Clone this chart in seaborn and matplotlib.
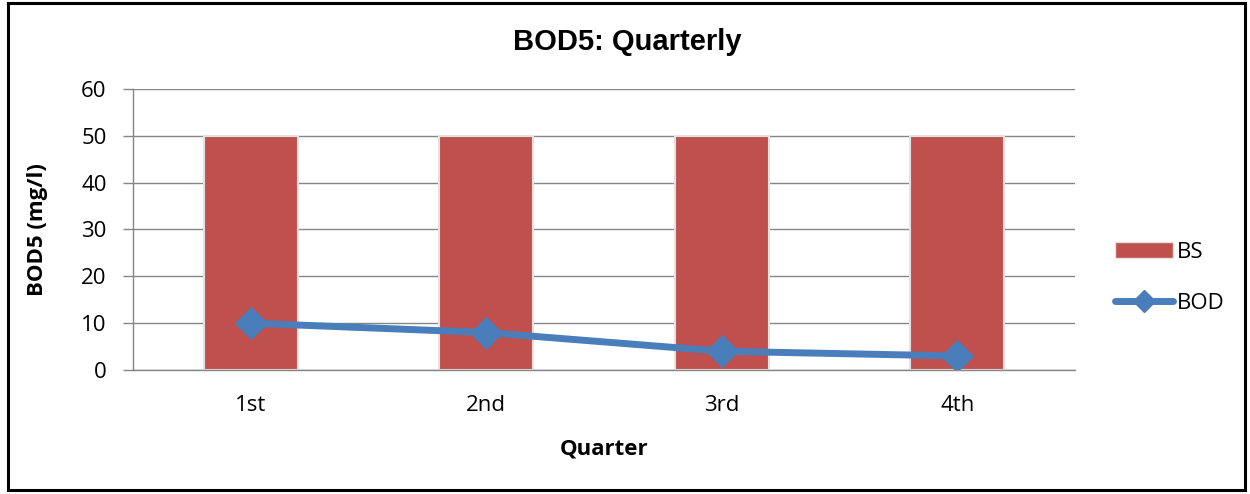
import matplotlib
matplotlib.use("Agg")
import matplotlib.pyplot as plt
import seaborn as sns
from matplotlib.patches import Patch, Rectangle
from matplotlib.lines import Line2D

# data
quarters = ["1st", "2nd", "3rd", "4th"]
bs_values = [50, 50, 50, 50]
bod_values = [10, 8, 4, 3]

bar_color = "#C0504D"
line_color = "#4A7EBB"
grid_color = "#868686"

sns.set_theme(style="white")
plt.rcParams["font.family"] = ["Open Sans", "DejaVu Sans"]
plt.rcParams["text.color"] = "black"
plt.rcParams["axes.labelcolor"] = "black"
plt.rcParams["xtick.color"] = "black"
plt.rcParams["ytick.color"] = "black"

fig = plt.figure(figsize=(12.5, 4.94), dpi=100)
ax = fig.add_axes([0.1064, 0.251, 0.7536, 0.569])

sns.barplot(x=quarters, y=bs_values, color=bar_color, width=0.4,
            edgecolor="#e2e2e2", linewidth=1.5, saturation=1, ax=ax)
sns.pointplot(x=quarters, y=bod_values, color=line_color, markers="D",
              linestyles="-", errorbar=None, markersize=13, linewidth=5,
              ax=ax)

ax.set_ylim(0, 60)
ax.set_xlim(-0.5, 3.5)
ax.set_yticks(range(0, 61, 10))
ax.yaxis.grid(True, color=grid_color, linewidth=1)
ax.set_axisbelow(True)

# category boundary ticks like the original
ax.set_xticks([-0.5, 0.5, 1.5, 2.5, 3.5], minor=True)
ax.tick_params(axis="x", which="major", length=0, pad=18, labelsize=16,
               labelcolor="black")
ax.tick_params(axis="x", which="minor", length=7, width=1, color=grid_color,
               direction="out")
ax.tick_params(axis="y", length=7, width=1, color=grid_color, direction="out",
               pad=12, labelsize=16, left=True, labelcolor="black")

for side in ["top", "right"]:
    ax.spines[side].set_visible(False)
for side in ["left", "bottom"]:
    ax.spines[side].set_color(grid_color)
    ax.spines[side].set_linewidth(1)

ax.set_xlabel("Quarter", fontsize=16, fontweight="bold", labelpad=16,
              color="black")
ax.set_ylabel("BOD5 (mg/l)", fontsize=16, fontweight="bold", labelpad=24,
              color="black")

fig.text(0.5015, 0.915, "BOD5: Quarterly", ha="center", va="center",
         fontsize=21, fontweight="bold", family="Liberation Sans",
         color="black")

handles = [
    Patch(facecolor=bar_color, edgecolor="#e2e2e2"),
    Line2D([0], [0], color=line_color, linewidth=5, marker="D", markersize=11),
]
fig.legend(handles, ["BS", "BOD"], loc="center left",
           bbox_to_anchor=(0.876, 0.438), frameon=False, fontsize=16,
           labelspacing=1.35, handlelength=2.6, handletextpad=0.2,
           labelcolor="black")

fig.add_artist(Rectangle((0.006, 0.008), 0.99, 0.985, transform=fig.transFigure,
                         fill=False, edgecolor="black", linewidth=2.2))

fig.savefig("out.png", dpi=100)
